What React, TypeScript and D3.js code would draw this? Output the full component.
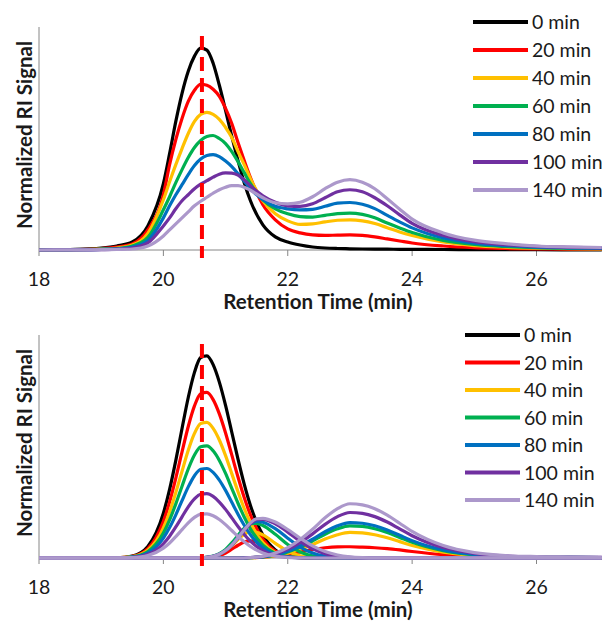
import React from 'react';
import * as d3 from 'd3';

// series (reaction time) and their colours
const seriesNames = ['0 min', '20 min', '40 min', '60 min', '80 min', '100 min', '140 min'];
const seriesColors = ['#000000', '#FF0000', '#FFC000', '#00B050', '#0070C0', '#7030A0', '#AC98CB'];
const xTicks = [18, 20, 22, 24, 26];
const xMin = 18;
const xMax = 27.05;
const yMax = 222;
const refTime = 20.62; // dashed marker at the starting peak
const refTop = 213;

// ---- top panel: measured RI traces (shared time grid) ----
const gridTime = [18, 18.5, 19, 19.25, 19.5, 19.75, 20, 20.1, 20.2, 20.3, 20.4, 20.5, 20.6, 20.7, 20.8, 20.9, 21, 21.1, 21.2, 21.3, 21.4, 21.6, 21.8, 22, 22.2, 22.4, 22.6, 22.8, 23, 23.2, 23.4, 23.6, 23.8, 24, 24.5, 25, 25.5, 26, 26.5, 27.05];
const trace0 = [0, 0.5, 2, 4, 8, 24, 66, 96, 128, 156, 178, 193, 201, 199, 186, 164, 139, 113, 89, 67, 49, 25, 13, 8, 5, 3, 2, 1.5, 1.2, 1, 0.9, 0.8, 0.7, 0.6, 0.5, 0.4, 0.3, 0.3, 0.2, 0.2];
const trace20 = [0, 0.3, 1.5, 3, 6, 20, 55, 85, 110, 131, 148, 159, 165, 164, 160, 153, 141, 126, 107, 89, 72, 45, 30, 21, 17, 15, 14.5, 14.8, 15, 14.5, 13, 11, 9, 7, 4, 2.3, 1.5, 1, 0.8, 0.6];
const trace40 = [0, 0.2, 1, 2, 5, 16.5, 50, 68, 85, 101, 116, 128, 135, 137, 135, 130, 122, 112, 98, 85, 71, 49, 36, 29, 25.5, 26, 28, 29.6, 30, 29, 26.3, 22.2, 18, 14.5, 8, 4.4, 2.8, 1.9, 1.4, 1.1];
const trace60 = [0, 0.2, 0.8, 1.5, 4, 12.5, 40, 53, 67, 80, 92, 102, 109, 113, 114, 111, 106, 98, 88, 77, 66, 50, 41, 36, 33.3, 32.8, 34.5, 36.2, 36.7, 35.4, 32, 26.8, 22, 17.5, 9.5, 5.5, 3.5, 2.3, 1.7, 1.3];
const trace80 = [0, 0.2, 0.7, 1.2, 3, 9.5, 32, 44, 55, 65, 75, 84, 90.5, 94, 95, 93, 88.5, 83, 76, 68.5, 61, 50, 43.5, 41, 40, 40.5, 43.5, 46.6, 47.3, 45.6, 41.2, 34.5, 28, 22, 12, 6.9, 4.4, 2.9, 2.2, 1.7];
const trace100 = [0, 0.1, 0.4, 0.8, 2, 7, 24, 32, 41, 49, 55, 61, 65.5, 69, 72.5, 75.5, 76.7, 76.5, 74.5, 70, 64, 54, 47.5, 44, 43.5, 46, 52, 58, 60, 58, 52, 44, 35, 26.5, 14.5, 8.4, 5.4, 3.6, 2.7, 2.1];
const trace140 = [0, 0.1, 0.3, 0.5, 1, 4, 14, 20, 26, 32, 38, 44, 48.5, 52.5, 56.5, 60, 62.5, 64, 64, 62.5, 59.5, 52, 47, 46, 47.5, 53, 61, 67.5, 70, 67.5, 61, 51, 40.6, 30.8, 17, 9.8, 6.3, 4, 3.1, 2.5];

// ---- bottom panel: fitted components ----
const mainTime = [18, 19, 19.25, 19.5, 19.75, 20, 20.1, 20.2, 20.3, 20.4, 20.5, 20.6, 20.7, 20.8, 20.9, 21, 21.1, 21.2, 21.3, 21.4, 21.6, 21.8, 22, 22.2, 22.4, 27.05];
const main0 = [0, 0, 0.2, 1.9, 11.5, 44.6, 68.3, 97.2, 128.9, 159.8, 184.8, 199.6, 201.2, 192.5, 175.1, 151.9, 125.2, 98.4, 73.5, 52.3, 22.8, 8.1, 2.4, 0.6, 0, 0];
const main20 = [0, 0, 0.2, 1.6, 9.4, 36.6, 55.9, 79.6, 105.6, 130.9, 151.4, 163.5, 164.8, 157.7, 143.5, 124.5, 102.6, 80.6, 60.2, 42.9, 18.7, 6.6, 2.0, 0.5, 0, 0];
const main40 = [0, 0, 0.1, 1.3, 7.7, 29.9, 45.8, 65.2, 86.4, 107.2, 124.0, 133.9, 135.0, 129.1, 117.5, 101.9, 84.0, 66.0, 49.3, 35.1, 15.3, 5.4, 1.6, 0.4, 0, 0];
const main60 = [0, 0, 0.1, 1.1, 6.4, 24.8, 37.9, 53.9, 71.5, 88.6, 102.5, 110.7, 111.6, 106.7, 97.1, 84.2, 69.4, 54.5, 40.8, 29.0, 12.7, 4.5, 1.3, 0.3, 0, 0];
const main80 = [0, 0, 0.1, 0.9, 5.1, 19.8, 30.3, 43.0, 57.1, 70.8, 81.9, 88.4, 89.1, 85.3, 77.6, 67.3, 55.5, 43.6, 32.6, 23.2, 10.1, 3.6, 1.1, 0.3, 0, 0];
const main100 = [0, 0, 0.1, 0.6, 3.7, 14.2, 21.7, 30.9, 41.0, 50.9, 58.8, 63.5, 64.0, 61.3, 55.7, 48.4, 39.9, 31.3, 23.4, 16.7, 7.3, 2.6, 0.8, 0.2, 0, 0];
const main140 = [0, 0, 0, 0.4, 2.5, 9.8, 14.9, 21.3, 28.2, 35.0, 40.4, 43.7, 44.0, 42.1, 38.3, 33.2, 27.4, 21.5, 16.1, 11.4, 5.0, 1.8, 0.5, 0.1, 0, 0];

const midTime = [18, 20.5, 20.6, 20.7, 20.8, 20.9, 21, 21.1, 21.2, 21.3, 21.4, 21.5, 21.6, 21.8, 22, 22.2, 22.4, 22.6, 22.8, 23, 23.2, 23.4, 27.05];
const mid20 = [0, 0, 0.1, 0.4, 1.1, 2.5, 5.0, 8.7, 12.7, 15.9, 17.0, 15.9, 13.3, 6.7, 2.1, 0.4, 0.1, 0, 0, 0, 0, 0, 0];
const mid40 = [0, 0, 0.2, 0.6, 1.5, 3.6, 7.2, 12.3, 18.4, 23.6, 26.2, 25.6, 23.0, 14.6, 6.7, 2.2, 0.5, 0.1, 0, 0, 0, 0, 0];
const mid60 = [0, 0.1, 0.2, 0.7, 1.9, 4.4, 8.6, 15.0, 22.6, 29.7, 34.1, 34.4, 32.3, 23.7, 13.5, 6.0, 2.1, 0.6, 0.1, 0, 0, 0, 0];
const mid80 = [0, 0.1, 0.2, 0.6, 1.6, 3.7, 7.4, 13.2, 20.6, 28.3, 34.2, 36.5, 35.6, 29.2, 19.7, 10.9, 4.9, 1.8, 0.6, 0.1, 0, 0, 0];
const mid100 = [0, 0.1, 0.3, 0.7, 1.7, 3.7, 7.2, 12.6, 19.6, 27.4, 34.1, 38.2, 38.5, 34.1, 25.8, 16.6, 9.1, 4.3, 1.7, 0.6, 0.2, 0, 0];
const mid140 = [0, 0.1, 0.3, 0.7, 1.7, 3.8, 7.4, 12.9, 20.1, 28.1, 35.0, 39.1, 39.5, 35.8, 28.4, 19.7, 12.0, 6.4, 3.0, 1.2, 0.4, 0.1, 0];

const lateTime = [18, 21.2, 21.4, 21.6, 21.8, 22, 22.2, 22.4, 22.6, 22.8, 23, 23.2, 23.4, 23.6, 23.8, 24, 24.5, 25, 25.5, 26, 26.5, 27.05];
const late20 = [0, 0, 0.3, 0.8, 2.0, 3.8, 6.0, 8.4, 10.2, 11.1, 11.2, 10.8, 10.2, 9.3, 8.0, 6.5, 3.3, 1.5, 0.7, 0.4, 0.3, 0.2];
const late40 = [0, 0, 0.3, 0.8, 2.3, 4.8, 8.7, 13.5, 18.9, 23.2, 25.5, 25.0, 23.2, 20.1, 16.3, 12.5, 5.9, 2.6, 1.1, 0.6, 0.5, 0.3];
const late60 = [0, 0, 0.3, 1.0, 2.9, 6.1, 10.9, 17.0, 23.7, 29.1, 32.0, 31.4, 29.1, 25.3, 20.5, 15.7, 7.4, 3.2, 1.4, 0.8, 0.6, 0.4];
const late80 = [0, 0, 0.4, 1.1, 3.2, 6.7, 12.0, 18.7, 26.1, 32.1, 35.3, 34.6, 32.1, 27.9, 22.6, 17.3, 8.1, 3.5, 1.6, 0.9, 0.6, 0.5];
const late100 = [0, 0, 0.5, 1.4, 4.1, 8.6, 15.4, 24.0, 33.5, 41.2, 45.3, 44.4, 41.2, 35.8, 29.0, 22.2, 10.4, 4.5, 2.0, 1.1, 0.8, 0.6];
const late140 = [0, 0, 0.5, 1.6, 4.9, 10.3, 18.4, 28.6, 40.0, 49.1, 54.0, 52.9, 49.1, 42.7, 34.6, 26.5, 12.4, 5.4, 2.4, 1.4, 1.0, 0.7];

type Curve = { color: string; pts: [number, number][] };

const zip = (t: number[], v: number[]): [number, number][] => t.map((d, i) => [d, v[i]]);

const topCurves: Curve[] = [trace0, trace20, trace40, trace60, trace80, trace100, trace140].map((v, i) => ({
  color: seriesColors[i],
  pts: zip(gridTime, v),
}));

const mains = [main0, main20, main40, main60, main80, main100, main140];
const mids = [null, mid20, mid40, mid60, mid80, mid100, mid140];
const lates = [null, late20, late40, late60, late80, late100, late140];
const bottomCurves: Curve[] = [];
mains.forEach((m, i) => {
  bottomCurves.push({ color: seriesColors[i], pts: zip(mainTime, m) });
  if (mids[i]) bottomCurves.push({ color: seriesColors[i], pts: zip(midTime, mids[i] as number[]) });
  if (lates[i]) bottomCurves.push({ color: seriesColors[i], pts: zip(lateTime, lates[i] as number[]) });
});

const font = "Lato, 'Open Sans', sans-serif";
const axisColor = '#868686';
const textColor = '#1a1a1a';

const x = d3.scaleLinear().domain([xMin, xMax]).range([39, 601.8]);

function Panel({ top, curves, legendX, legendY, legendStep }: { top: number; curves: Curve[]; legendX: number; legendY: number; legendStep: number }) {
  const y = d3.scaleLinear().domain([0, yMax]).range([top + 223, top]);
  const line = d3
    .line<[number, number]>()
    .x((d) => x(d[0]))
    .y((d) => y(d[1]))
    .curve(d3.curveMonotoneX);
  const base = y(0);

  return (
    <g>
      {/* axes */}
      <line x1={x(xMin)} x2={x(xMin)} y1={y(yMax)} y2={base} stroke={axisColor} strokeWidth={1} />
      <line x1={x(xMin)} x2={x(xMax)} y1={base} y2={base} stroke={axisColor} strokeWidth={1} />
      {xTicks.map((t) => (
        <g key={t}>
          <line x1={x(t)} x2={x(t)} y1={base} y2={base + 6} stroke={axisColor} strokeWidth={1} />
          <text x={x(t)} y={base + 36} textAnchor="middle" fontFamily={font} fontSize={19.5} fill={textColor}>
            {t}
          </text>
        </g>
      ))}

      {/* traces */}
      {curves.map((c, i) => (
        <path key={i} d={line(c.pts) || ''} fill="none" stroke={c.color} strokeWidth={3.2} strokeLinejoin="round" />
      ))}

      {/* reference dashed line */}
      <line x1={x(refTime)} x2={x(refTime)} y1={y(refTop)} y2={base + 8} stroke="#FF0000" strokeWidth={4} strokeDasharray="14,7" />

      {/* axis titles */}
      <text x={318} y={base + 59} textAnchor="middle" fontFamily={font} fontWeight="bold" fontSize={20.5} fill={textColor}>
        Retention Time (min)
      </text>
      <text transform={`translate(32,${top + 108}) rotate(-90)`} textAnchor="middle" fontFamily={font} fontWeight="bold" fontSize={20.5} fill={textColor}>
        Normalized RI Signal
      </text>

      {/* legend */}
      {seriesNames.map((name, i) => (
        <g key={name}>
          <line x1={legendX} x2={legendX + 55} y1={legendY + i * legendStep} y2={legendY + i * legendStep} stroke={seriesColors[i]} strokeWidth={4} />
          <text x={legendX + 59} y={legendY + i * legendStep} dy="0.36em" fontFamily={font} fontSize={19.5} fill={textColor}>
            {name}
          </text>
        </g>
      ))}
    </g>
  );
}

export default function App() {
  return (
    <svg width={605} height={623} style={{ position: 'absolute', left: 0, top: 0, background: '#fff' }}>
      <rect width={605} height={623} fill="#fff" />
      <Panel top={27} curves={topCurves} legendX={473} legendY={22} legendStep={28} />
      <Panel top={335} curves={bottomCurves} legendX={465} legendY={335} legendStep={27.5} />
    </svg>
  );
}
